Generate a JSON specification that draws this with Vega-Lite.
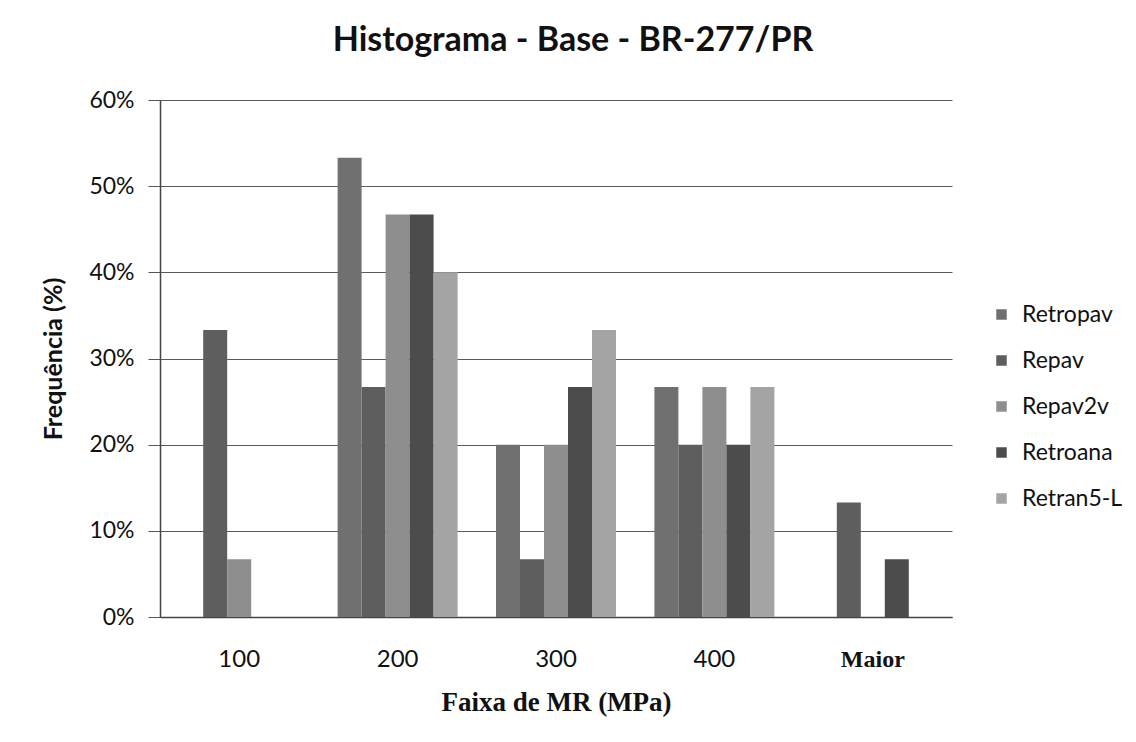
{
  "$schema": "https://vega.github.io/schema/vega-lite/v6.json",
  "width": 792,
  "height": 517,
  "autosize": {"type": "none"},
  "padding": {"left": 160, "top": 100, "right": 184, "bottom": 125},
  "background": "white",
  "title": {
    "text": "Histograma - Base - BR-277/PR",
    "font": "Lato",
    "fontSize": 34,
    "fontWeight": "bold",
    "color": "#111",
    "anchor": "middle",
    "frame": "group",
    "dx": 17,
    "offset": 31
  },
  "data": {
    "values": [
      {"faixa": "100", "serie": "Retropav", "freq": 0},
      {"faixa": "100", "serie": "Repav", "freq": 0.333},
      {"faixa": "100", "serie": "Repav2v", "freq": 0.067},
      {"faixa": "100", "serie": "Retroana", "freq": 0},
      {"faixa": "100", "serie": "Retran5-L", "freq": 0},
      {"faixa": "200", "serie": "Retropav", "freq": 0.533},
      {"faixa": "200", "serie": "Repav", "freq": 0.267},
      {"faixa": "200", "serie": "Repav2v", "freq": 0.467},
      {"faixa": "200", "serie": "Retroana", "freq": 0.467},
      {"faixa": "200", "serie": "Retran5-L", "freq": 0.4},
      {"faixa": "300", "serie": "Retropav", "freq": 0.2},
      {"faixa": "300", "serie": "Repav", "freq": 0.067},
      {"faixa": "300", "serie": "Repav2v", "freq": 0.2},
      {"faixa": "300", "serie": "Retroana", "freq": 0.267},
      {"faixa": "300", "serie": "Retran5-L", "freq": 0.333},
      {"faixa": "400", "serie": "Retropav", "freq": 0.267},
      {"faixa": "400", "serie": "Repav", "freq": 0.2},
      {"faixa": "400", "serie": "Repav2v", "freq": 0.267},
      {"faixa": "400", "serie": "Retroana", "freq": 0.2},
      {"faixa": "400", "serie": "Retran5-L", "freq": 0.267},
      {"faixa": "Maior", "serie": "Retropav", "freq": 0},
      {"faixa": "Maior", "serie": "Repav", "freq": 0.133},
      {"faixa": "Maior", "serie": "Repav2v", "freq": 0},
      {"faixa": "Maior", "serie": "Retroana", "freq": 0.067},
      {"faixa": "Maior", "serie": "Retran5-L", "freq": 0}
    ]
  },
  "mark": {"type": "bar"},
  "encoding": {
    "x": {
      "field": "faixa",
      "type": "nominal",
      "sort": ["100", "200", "300", "400", "Maior"],
      "scale": {"paddingInner": 0.2424, "paddingOuter": 0.1212},
      "axis": {
        "title": "Faixa de MR (MPa)",
        "titleFont": "Liberation Serif",
        "titleFontSize": 27,
        "titleFontWeight": "bold",
        "titleColor": "#111",
        "titlePadding": 18,
        "labelAngle": 0,
        "labelFont": {"condition": {"test": "datum.value == 'Maior'", "value": "Liberation Serif"}, "value": "Lato"},
        "labelFontWeight": {"condition": {"test": "datum.value == 'Maior'", "value": "bold"}, "value": "normal"},
        "labelFontSize": 24,
        "labelColor": "#111",
        "labelPadding": 30,
        "ticks": false,
        "domainColor": "#444",
        "domainWidth": 1.5,
        "grid": false
      }
    },
    "xOffset": {
      "field": "serie",
      "type": "nominal",
      "sort": ["Retropav", "Repav", "Repav2v", "Retroana", "Retran5-L"],
      "scale": {"paddingInner": 0, "paddingOuter": 0}
    },
    "y": {
      "field": "freq",
      "type": "quantitative",
      "scale": {"domain": [0, 0.6], "nice": false},
      "axis": {
        "title": "Frequência (%)",
        "titleFont": "Lato",
        "titleFontSize": 25,
        "titleFontWeight": "bold",
        "titleColor": "#111",
        "titlePadding": 22,
        "format": ".0%",
        "values": [0, 0.1, 0.2, 0.3, 0.4, 0.5, 0.6],
        "labelFont": "Lato",
        "labelFontSize": 23,
        "labelColor": "#111",
        "labelPadding": 14,
        "tickSize": 12,
        "tickColor": "#555",
        "domainColor": "#444",
        "domainWidth": 1.5,
        "grid": true,
        "gridColor": "#5a5a5a",
        "gridWidth": 1
      }
    },
    "color": {
      "field": "serie",
      "type": "nominal",
      "sort": ["Retropav", "Repav", "Repav2v", "Retroana", "Retran5-L"],
      "scale": {
        "domain": ["Retropav", "Repav", "Repav2v", "Retroana", "Retran5-L"],
        "range": ["#707070", "#5e5e5e", "#8e8e8e", "#4c4c4c", "#a4a4a4"]
      },
      "legend": {
        "title": null,
        "orient": "none",
        "legendX": 830,
        "legendY": 203,
        "symbolType": "square",
        "symbolSize": 110,
        "symbolStrokeWidth": 0,
        "symbolOpacity": 1,
        "labelFont": "Lato",
        "labelFontSize": 23,
        "labelColor": "#111",
        "labelOffset": 9,
        "rowPadding": 22
      }
    }
  },
  "config": {
    "view": {"stroke": null}
  }
}
